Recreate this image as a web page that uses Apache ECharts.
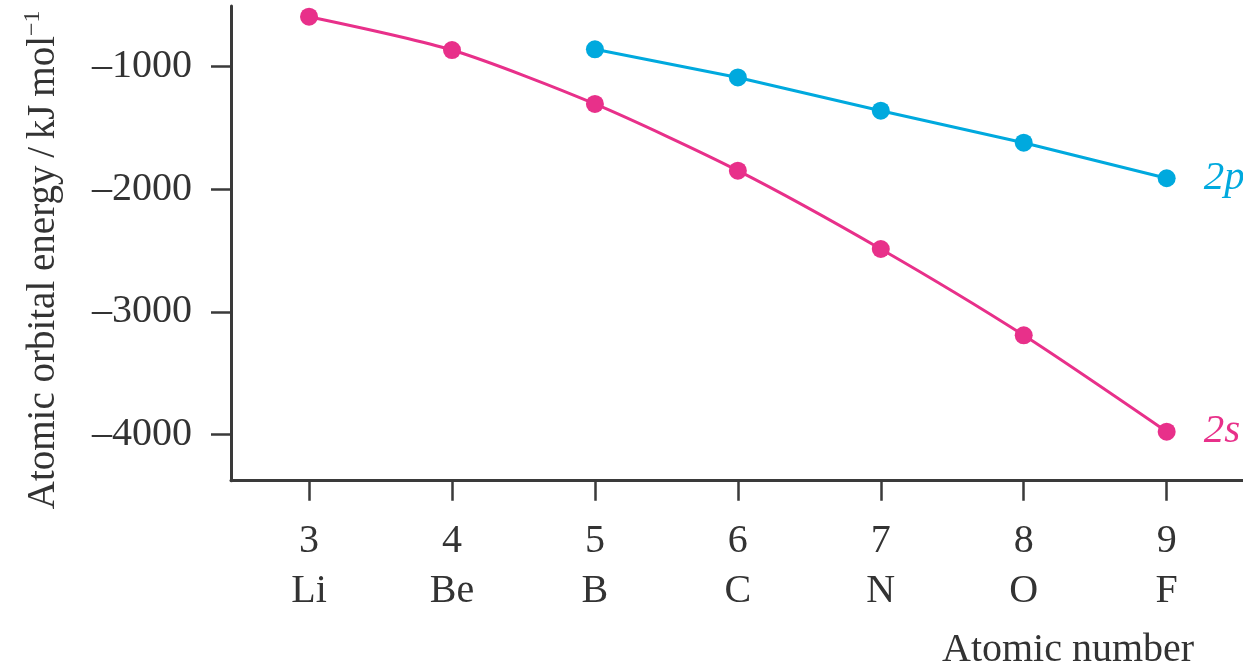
<!DOCTYPE html>
<html>
<head>
<meta charset="utf-8">
<script src="https://cdn.jsdelivr.net/npm/echarts@6/dist/echarts.min.js"></script>
<style>
html,body{margin:0;padding:0;background:#fff;}
#chart{width:1243px;height:669px;}
</style>
</head>
<body>
<div id="chart"></div>
<script>
const atomicNumbers = [3, 4, 5, 6, 7, 8, 9];
const elements = ['Li', 'Be', 'B', 'C', 'N', 'O', 'F'];
const energy2s = [-592, -864, -1304, -1848, -2487, -3191, -3977];
const energy2pNumbers = [5, 6, 7, 8, 9];
const energy2p = [-858, -1088, -1359, -1620, -1910];
const yTicks = [-4000, -3000, -2000, -1000];
const xTicks = atomicNumbers;

const FONT = "'Liberation Serif', 'Times New Roman', serif";
const TEXT = '#333333';
const AXIS = '#3a3a3a';
const BLUE = '#00a9de';
const PINK = '#e8308a';

const chart = echarts.init(document.getElementById('chart'));
chart.setOption({
  animation: false,
  backgroundColor: '#ffffff',
  grid: { left: 231, right: 0, top: 6, bottom: 188.3, containLabel: false, outerBoundsMode: 'none' },
  title: {
    text: 'Atomic number',
    left: 942, top: 630, padding: 0,
    textStyle: { fontFamily: FONT, fontSize: 40, lineHeight: 40, fontWeight: 'normal', color: TEXT }
  },
  xAxis: {
    type: 'value',
    min: 2.454, max: 9.534,
    splitLine: { show: false },
    axisLine: { show: true, onZero: false, lineStyle: { color: AXIS, width: 3 } },
    axisTick: { show: true, length: 20, lineStyle: { color: AXIS, width: 2.5 }, customValues: xTicks },
    axisLabel: {
      customValues: xTicks,
      margin: 36,
      fontFamily: FONT, fontSize: 40, lineHeight: 50, color: TEXT,
      formatter: function (v) {
        const i = atomicNumbers.indexOf(Math.round(v));
        return i >= 0 ? v + '\n' + elements[i] : '';
      }
    }
  },
  yAxis: {
    type: 'value',
    min: -4377, max: -505,
    splitLine: { show: false },
    axisLine: { show: true, lineStyle: { color: AXIS, width: 3 } },
    axisTick: { show: true, length: 20, lineStyle: { color: AXIS, width: 2.5 }, customValues: yTicks },
    axisLabel: {
      customValues: yTicks,
      margin: 39,
      fontFamily: FONT, fontSize: 40, color: TEXT,
      formatter: function (v) { return v < 0 ? '\u2013' + Math.abs(v) : String(v); }
    },
    name: 'Atomic orbital energy\u2009/\u2009kJ\u2009mol{sup|\u22121}',
    nameLocation: 'middle',
    nameGap: 164,
    nameRotate: 90,
    nameTextStyle: {
      fontFamily: FONT, fontSize: 39, color: TEXT, padding: [0, 33, 0, 0],
      rich: { sup: { fontFamily: FONT, fontSize: 24, color: TEXT, verticalAlign: 'top', padding: [0, 0, 22, 0] } }
    }
  },
  series: [
    {
      name: '2s', type: 'line', smooth: 0.25,
      data: atomicNumbers.map((x, i) => [x, energy2s[i]]),
      symbol: 'circle', symbolSize: 18,
      itemStyle: { color: PINK },
      lineStyle: { color: PINK, width: 3 },
      endLabel: { show: true, formatter: '2s', distance: 37, fontFamily: FONT, fontStyle: 'italic', fontSize: 41, color: PINK }
    },
    {
      name: '2p', type: 'line', smooth: false,
      data: energy2pNumbers.map((x, i) => [x, energy2p[i]]),
      symbol: 'circle', symbolSize: 18,
      itemStyle: { color: BLUE },
      lineStyle: { color: BLUE, width: 3 },
      endLabel: { show: true, formatter: '2p', distance: 37, fontFamily: FONT, fontStyle: 'italic', fontSize: 41, color: BLUE }
    }
  ]
});
</script>
</body>
</html>
